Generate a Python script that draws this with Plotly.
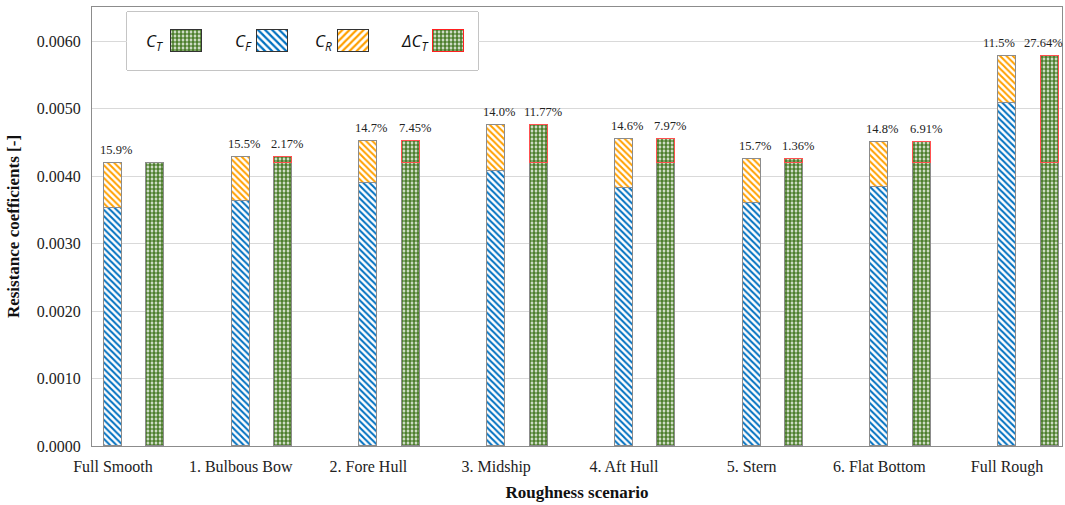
import plotly.graph_objects as go

categories = ["Full Smooth", "1. Bulbous Bow", "2. Fore Hull", "3. Midship",
              "4. Aft Hull", "5. Stern", "6. Flat Bottom", "Full Rough"]
cf = [0.00353, 0.00363, 0.00390, 0.00408, 0.00382, 0.00360, 0.00384, 0.00508]
cr = [0.00066, 0.00065, 0.00063, 0.00068, 0.00074, 0.00065, 0.00067, 0.00071]
ct_smooth = [0.00419] * 8
delta_ct = [0.0, 0.00009, 0.00034, 0.00057, 0.00037, 0.00006, 0.00032, 0.00160]
cr_pct = ["15.9%", "15.5%", "14.7%", "14.0%", "14.6%", "15.7%", "14.8%", "11.5%"]
dct_pct = ["", "2.17%", "7.45%", "11.77%", "7.97%", "1.36%", "6.91%", "27.64%"]
legend_names = ["C<sub>T</sub>", "C<sub>F</sub>", "C<sub>R</sub>", "ΔC<sub>T</sub>"]

BLUE = "#0070C0"
ORANGE = "#FFA000"
GREEN = "#4E7F2E"
GREY = "#8C8C8C"
RED = "#FF5050"
SERIF = "Liberation Serif"

x0 = list(range(len(categories)))
off = 0.333
x1 = [v + off for v in x0]
W = 0.141

def pat(shape, color, size=5, sol=0.45):
    return dict(shape=shape, fgcolor=color, bgcolor="white", size=size, solidity=sol, fillmode="replace")

CHECK = lambda: pat(".", GREEN, 4, 0.7)

fig = go.Figure()
fig.add_bar(x=x0, y=cf, width=W, marker=dict(color="white", pattern=pat("\\", BLUE, 4.5, 0.45),
            line=dict(color=GREY, width=1)), showlegend=False)
fig.add_bar(x=x0, y=cr, width=W, marker=dict(color="white", pattern=pat("\\", ORANGE, 4.5, 0.45),
            line=dict(color=GREY, width=1)), showlegend=False)
fig.add_bar(x=x1, y=ct_smooth, width=W, marker=dict(color="white", pattern=CHECK(),
            line=dict(color=GREY, width=1)), showlegend=False)
fig.add_bar(x=x1, y=delta_ct, width=W, marker=dict(color="white", pattern=CHECK(),
            line=dict(color=[RED if d > 0 else "rgba(0,0,0,0)" for d in delta_ct], width=1)),
            showlegend=False)

# percentage labels
last = len(categories) - 1
for i in range(len(categories)):
    tot = cf[i] + cr[i]
    fig.add_annotation(x=x0[i], y=tot, text=cr_pct[i], showarrow=False, yanchor="bottom",
                       xshift=-8 if i == last else 3, yshift=4,
                       font=dict(family=SERIF, size=12.5, color="#222"))
    if dct_pct[i]:
        fig.add_annotation(x=x1[i], y=ct_smooth[i] + delta_ct[i], text=dct_pct[i], showarrow=False,
                           yanchor="bottom", xshift=-6 if i == last else 4, yshift=4,
                           font=dict(family=SERIF, size=12.5, color="#222"))

# custom legend (pixel-based helper axes)
L, R_, T, B = 92, 1062, 7, 446
PW, PH = R_ - L, B - T
def px_x(p):
    return (p - L) / PW
def px_y(p):
    return (B - p) / PH

lx0, lx1, ly0, ly1 = 127, 478, 12, 70
fig.add_shape(type="rect", xref="paper", yref="paper", x0=px_x(lx0), x1=px_x(lx1),
              y0=px_y(ly1), y1=px_y(ly0), line=dict(color="#8a8a8a", width=1),
              fillcolor="white", layer="between")
sw_centers = [186.5, 272.5, 353, 448.5]
sw_pats = [CHECK(), pat("\\", BLUE, 5, 0.45), pat("/", ORANGE, 5, 0.45), CHECK()]
sw_lines = ["#333", "#333", "#333", "#FF2020"]
for c, p, lc in zip(sw_centers, sw_pats, sw_lines):
    fig.add_bar(x=[c], y=[-22], base=[52], width=31, xaxis="x2", yaxis="y2",
                marker=dict(color="white", pattern=p, line=dict(color=lc, width=1.2)),
                showlegend=False, hoverinfo="skip", cliponaxis=False)
lab_right = [165, 254, 334, 431]
for name, xr in zip(legend_names, lab_right):
    fig.add_annotation(x=px_x(xr), y=px_y(41), xref="paper", yref="paper", text="<i>" + name + "</i>",
                       showarrow=False, xanchor="right", yanchor="middle",
                       font=dict(family="Open Sans", size=17, color="#111"))

fig.update_layout(
    width=1065, height=505,
    margin=dict(l=L, r=1065 - R_, t=T, b=505 - B, autoexpand=False),
    paper_bgcolor="white", plot_bgcolor="white",
    barmode="stack", bargap=0,
    xaxis=dict(range=[-0.164, 7.43], tickvals=x0, ticktext=categories, showgrid=False,
               showline=True, linecolor=GREY, linewidth=1, mirror=True, ticks="",
               ticklabelstandoff=6, tickfont=dict(family=SERIF, size=16, color="#222"),
               title=dict(text="<b>Roughness scenario</b>", standoff=10,
                          font=dict(family=SERIF, size=17, color="#111")),
               zeroline=False),
    yaxis=dict(range=[0, 0.00651], dtick=0.001, tickformat=".4f", showgrid=True,
               gridcolor="#D9D9D9", gridwidth=1, showline=True, linecolor=GREY, linewidth=1,
               mirror=True, ticks="", ticklabelstandoff=7,
               tickfont=dict(family=SERIF, size=16, color="#222"),
               title=dict(text="<b>Resistance coefficients [-]</b>", standoff=12,
                          font=dict(family=SERIF, size=17, color="#111")),
               zeroline=False),
    xaxis2=dict(domain=[px_x(lx0), px_x(lx1)], range=[lx0, lx1], visible=False, anchor="y2"),
    yaxis2=dict(domain=[px_y(ly1), px_y(ly0)], range=[ly1, ly0], visible=False, anchor="x2"),
)

fig.write_html("out.html", config={"displayModeBar": False},
               post_script="document.body.style.margin='0';")
